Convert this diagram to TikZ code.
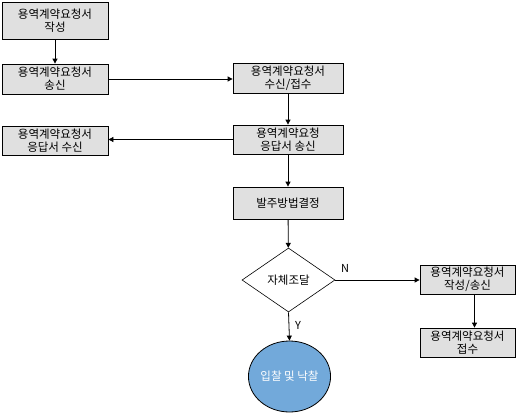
\documentclass[tikz,border=0pt]{standalone}
\usepackage{fontspec}
\setmainfont{Noto Sans CJK KR}
\usetikzlibrary{shapes.geometric,arrows.meta}
\begin{document}
\begin{tikzpicture}[x=1pt,y=-1pt,
  box/.style={draw=black,line width=0.8pt,fill=boxgray,align=center,font=\fontsize{11.5}{13}\selectfont,inner sep=0pt},
  arr/.style={line width=0.8pt,-{Triangle[width=5pt,length=5pt]}},
  lbl/.style={font=\fontsize{11}{12}\selectfont,inner sep=0pt}]
\definecolor{boxgray}{HTML}{E0E0E0}
\definecolor{circblue}{HTML}{72A9DA}
\useasboundingbox (0,0) rectangle (532,415);
\node[box,minimum width=106pt,minimum height=37pt] (b1) at (55,20.5) {용역계약요청서\\작성};
\node[box,minimum width=106pt,minimum height=30pt] (b2) at (55,79) {용역계약요청서\\송신};
\node[box,minimum width=110pt,minimum height=30pt] (b3) at (288,78) {용역계약요청서\\수신/접수};
\node[box,minimum width=110pt,minimum height=29pt] (b4) at (288,139.5) {용역계약요청\\응답서 송신};
\node[box,minimum width=106pt,minimum height=29pt] (b5) at (55,141) {용역계약요청서\\응답서 수신};
\node[box,minimum width=110pt,minimum height=32pt] (b6) at (288,203) {발주방법결정};
\node[draw=black,line width=0.6pt,fill=white,diamond,aspect=1.45,minimum width=93pt,minimum height=64pt,inner sep=0pt,font=\fontsize{11.5}{13}\selectfont] (d) at (288.5,280) {자체조달};
\node[box,minimum width=95pt,minimum height=29pt] (b7) at (467.5,279.5) {용역계약요청서\\작성/송신};
\node[box,minimum width=95pt,minimum height=29pt] (b8) at (467.5,342.5) {용역계약요청서\\접수};
\node[draw=black,line width=0.8pt,fill=circblue,ellipse,minimum width=75pt,minimum height=71pt,inner sep=0pt,text=white,font=\fontsize{11.5}{13}\selectfont] (c) at (289.5,376.5) {입찰 및 낙찰};
\draw[arr] (b1) -- (b2);
\draw[arr] (b2.east) -- (b2.east -| b3.west);
\draw[arr] (b3) -- (b4);
\draw[arr] (b4.west) -- (b4.west -| b5.east);
\draw[arr] (b4) -- (b6);
\draw[arr] (b6) -- (d);
\draw[arr] (d.east) -- (d.east -| b7.west);
\draw[arr] ([xshift=7pt]b7.south) -- ([xshift=7pt]b8.north);
\draw[arr] (d.south) -- (c.north);
\node[lbl] (n) at (345,268) {N};
\node[lbl] (y) at (298,325) {Y};
\end{tikzpicture}
\end{document}
